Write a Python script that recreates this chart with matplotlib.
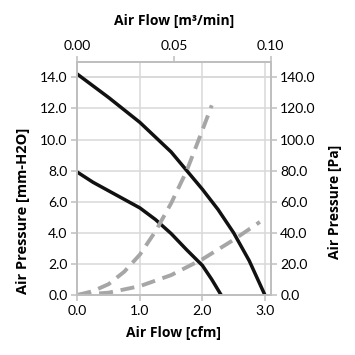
import matplotlib
matplotlib.use("Agg")
import matplotlib.pyplot as plt

plt.rcParams['font.family'] = ['Lato', 'DejaVu Sans']

# pressure curves [mm-H2O] vs air flow [cfm]
x_high = [0, 0.5, 1.0, 1.5, 1.75, 2.0, 2.25, 2.5, 2.75, 3.0]
p_high = [14.2, 12.7, 11.1, 9.2, 8.0, 6.8, 5.5, 4.0, 2.2, 0.0]

x_low = [0, 0.25, 0.5, 0.75, 1.0, 1.25, 1.5, 1.75, 2.0, 2.15, 2.3]
p_low = [7.9, 7.25, 6.7, 6.15, 5.6, 4.85, 3.95, 2.9, 1.9, 1.0, 0.0]

# system impedance curves [Pa]
x_steep = [0, 0.25, 0.5, 0.75, 1.0, 1.25, 1.5, 1.75, 2.0, 2.15]
pa_steep = [0, 2.5, 7, 15, 26, 41, 59, 80, 106, 122]

x_flat = [0, 0.5, 1.0, 1.5, 2.0, 2.5, 2.92]
pa_flat = [0, 1.5, 5.7, 12.8, 23, 35.5, 47]

grid_c = '#d9d9d9'
spine_c = '#bfbfbf'
lab = dict(fontweight='bold', fontsize=10, family=['Open Sans', 'DejaVu Sans'])

fig, ax = plt.subplots(figsize=(3.55, 3.55), dpi=100)
fig.subplots_adjust(left=0.218, right=0.762, top=0.826, bottom=0.169)

ax.plot(x_high, p_high, color='#111111', lw=2.5, zorder=3)
ax.plot(x_low, p_low, color='#111111', lw=2.5, zorder=3)
ax.set_xlim(0, 3.09)
ax.set_ylim(0, 15)
ax.set_xticks([0, 1, 2, 3])
ax.set_yticks(range(0, 15, 2))
ax.xaxis.set_major_formatter(matplotlib.ticker.FormatStrFormatter('%.1f'))
ax.yaxis.set_major_formatter(matplotlib.ticker.FormatStrFormatter('%.1f'))
ax.grid(True, color=grid_c, lw=1.1)
ax.axhline(14, color=grid_c, lw=1.1)
ax.set_xlabel('Air Flow [cfm]', labelpad=7, **lab)
ax.set_ylabel('Air Pressure [mm-H2O]', labelpad=7, **lab)
ax.yaxis.label.set_fontsize(10.5)
ax.yaxis.label.set_y(0.36)

ax2 = ax.twinx()
ax2.plot(x_steep, pa_steep, color='#a6a6a6', lw=2.8, dashes=(3.6, 2), zorder=2)
ax2.plot(x_flat, pa_flat, color='#a6a6a6', lw=2.8, dashes=(3.6, 2), zorder=2)
ax2.set_ylim(0, 150)
ax2.set_yticks(range(0, 141, 20))
ax2.yaxis.set_major_formatter(matplotlib.ticker.FormatStrFormatter('%.1f'))
ax2.set_ylabel('Air Pressure [Pa]', labelpad=9, **lab)
ax2.yaxis.label.set_y(0.40)

ax3 = ax.twiny()
ax3.set_xlim(0, 0.10)
ax3.set_xticks([0, 0.05, 0.10])
ax3.xaxis.set_major_formatter(matplotlib.ticker.FormatStrFormatter('%.2f'))
ax3.set_xlabel('Air Flow [m³/min]', labelpad=11, **lab)

for a in (ax, ax2, ax3):
    for s in a.spines.values():
        s.set_color(spine_c)
        s.set_linewidth(1.1)
    a.tick_params(colors=spine_c, labelcolor='black', labelsize=10, length=4, width=1.1, pad=3)

fig.savefig('out.png', dpi=100)
